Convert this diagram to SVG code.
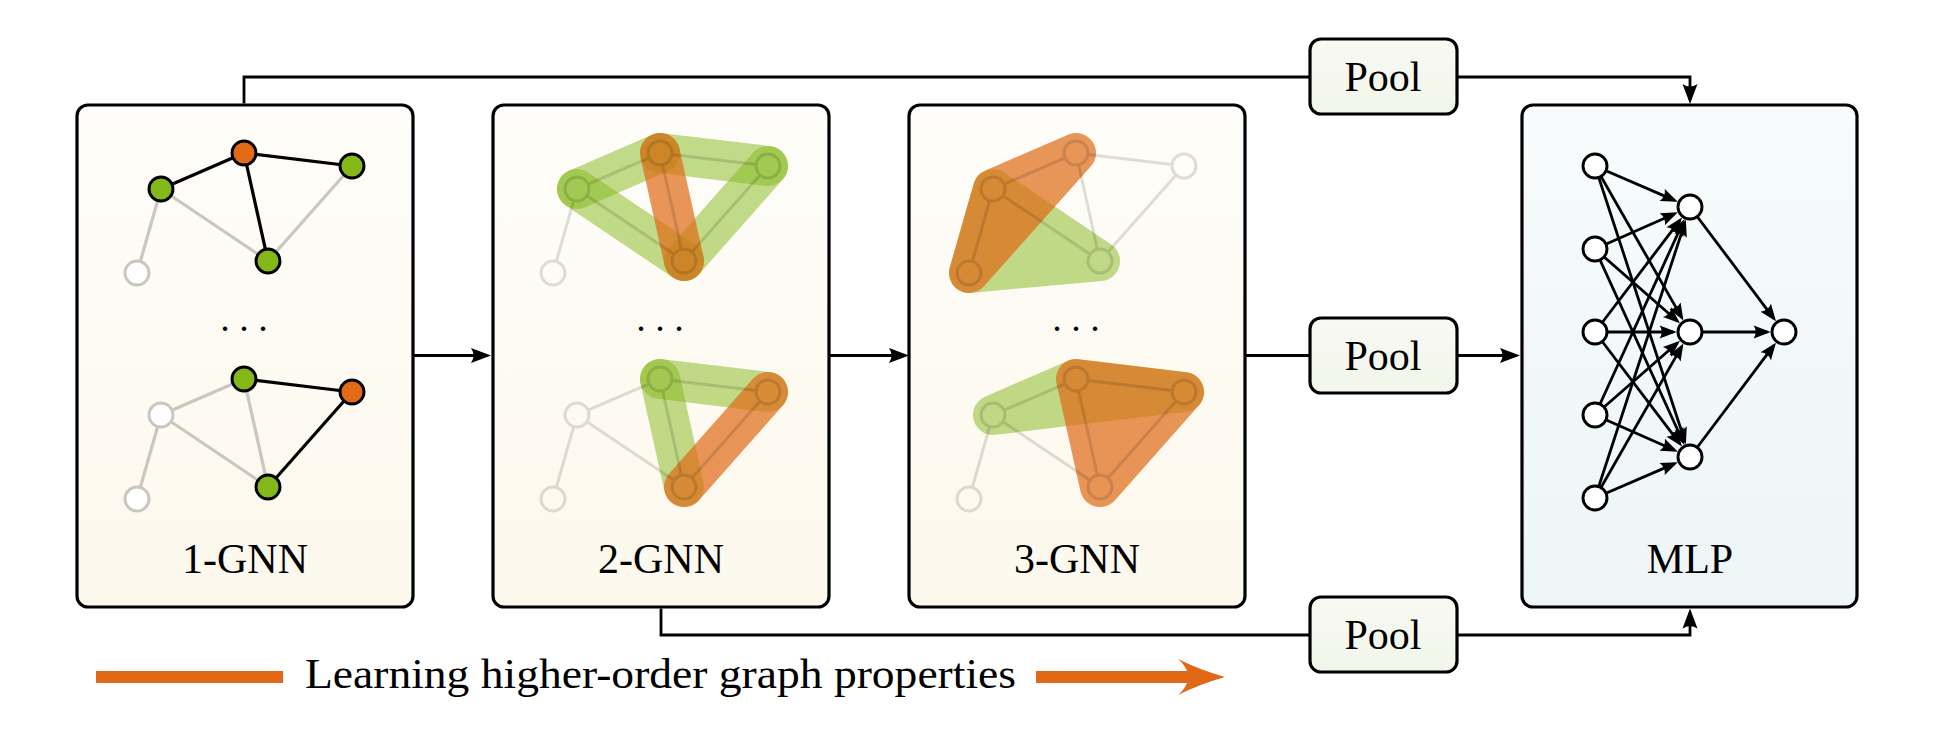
<svg xmlns="http://www.w3.org/2000/svg" xmlns:xlink="http://www.w3.org/1999/xlink" width="1938" height="743" viewBox="0 0 1938 743">
<style>
.box{stroke:#000;stroke-width:3.2}
.conn{fill:none;stroke:#000;stroke-width:2.8}
.lbl{font-family:"Liberation Serif","DejaVu Serif",serif;font-size:42px;text-anchor:middle;fill:#000}
.dots{font-family:"Liberation Serif","DejaVu Serif",serif;font-size:38px;text-anchor:middle;fill:#000}
.ge{stroke:#c9c7c0;stroke-width:3.2}
.be{stroke:#000;stroke-width:3.2}
.gn{fill:#84b819;stroke:#000;stroke-width:2.9}
.on{fill:#e06a15;stroke:#000;stroke-width:2.9}
.wn{fill:#fff;stroke:#c9c7c0;stroke-width:2.9}
.band-g{fill:none;stroke:#84b819;stroke-opacity:0.5;stroke-width:40;stroke-linecap:round}
.band-o{fill:none;stroke:#e06a15;stroke-opacity:0.7;stroke-width:40;stroke-linecap:round}
.poly-g{fill:#84b819;stroke:#84b819;stroke-width:40;stroke-linejoin:round}
.poly-o{fill:#e06a15;stroke:#e06a15;stroke-width:40;stroke-linejoin:round}
.mn{fill:#fff;stroke:#000;stroke-width:2.9}
.me{fill:none;stroke:#000;stroke-width:2.8}
</style>
<defs>
<linearGradient id="gCream" x1="0" y1="0" x2="0" y2="1"><stop offset="0" stop-color="#fefdf9"/><stop offset="1" stop-color="#fdf8ec"/></linearGradient>
<linearGradient id="gBlue" x1="0" y1="0" x2="0" y2="1"><stop offset="0" stop-color="#f7fbfc"/><stop offset="1" stop-color="#edf5f7"/></linearGradient>
<linearGradient id="gPool" x1="0" y1="0" x2="0" y2="1"><stop offset="0" stop-color="#f8faf3"/><stop offset="1" stop-color="#f2f5e9"/></linearGradient>
<marker id="arr" viewBox="0 -8 24 16" refX="18" refY="0" markerWidth="24" markerHeight="16" markerUnits="userSpaceOnUse" orient="auto">
<path d="M22,0 L2,-7.5 Q7,0 2,7.5 Z" fill="#000"/>
</marker>
<marker id="arrs" viewBox="0 -7 20 14" refX="15.5" refY="0" markerWidth="20" markerHeight="14" markerUnits="userSpaceOnUse" orient="auto">
<path d="M19,0 L2,-6.5 Q6,0 2,6.5 Z" fill="#000"/>
</marker>
<g id="faded" fill="none" stroke="#000" stroke-width="3">
<line x1="232.99" y1="157.77" x2="172.01" y2="184.23"/>
<line x1="255.91" y1="154.43" x2="340.09" y2="164.57"/>
<line x1="246.60" y1="164.71" x2="265.40" y2="249.29"/>
<line x1="157.70" y1="200.54" x2="140.30" y2="261.46"/>
<line x1="170.96" y1="195.70" x2="258.04" y2="254.30"/>
<line x1="275.95" y1="252.01" x2="344.05" y2="174.99"/>
<circle cx="244" cy="153" r="12"/>
<circle cx="161" cy="189" r="12"/>
<circle cx="352" cy="166" r="12"/>
<circle cx="268" cy="261" r="12"/>
<circle cx="137" cy="273" r="12"/>
</g>
</defs>

<g id="node-1gnn">
<rect class="box" x="77" y="105" width="336" height="502" rx="11" fill="url(#gCream)"/>
<g>
<line class="ge" x1="161" y1="189" x2="137" y2="273"/>
<line class="ge" x1="161" y1="189" x2="268" y2="261"/>
<line class="ge" x1="268" y1="261" x2="352" y2="166"/>
<line class="be" x1="244" y1="153" x2="161" y2="189"/>
<line class="be" x1="244" y1="153" x2="352" y2="166"/>
<line class="be" x1="244" y1="153" x2="268" y2="261"/>
<circle class="on" cx="244" cy="153" r="12"/>
<circle class="gn" cx="161" cy="189" r="12"/>
<circle class="gn" cx="352" cy="166" r="12"/>
<circle class="gn" cx="268" cy="261" r="12"/>
<circle class="wn" cx="137" cy="273" r="12"/>
</g>
<g transform="translate(0,226)">
<line class="ge" x1="244" y1="153" x2="161" y2="189"/>
<line class="ge" x1="244" y1="153" x2="268" y2="261"/>
<line class="ge" x1="161" y1="189" x2="137" y2="273"/>
<line class="ge" x1="161" y1="189" x2="268" y2="261"/>
<line class="be" x1="244" y1="153" x2="352" y2="166"/>
<line class="be" x1="268" y1="261" x2="352" y2="166"/>
<circle class="gn" cx="244" cy="153" r="12"/>
<circle class="wn" cx="161" cy="189" r="12"/>
<circle class="on" cx="352" cy="166" r="12"/>
<circle class="gn" cx="268" cy="261" r="12"/>
<circle class="wn" cx="137" cy="273" r="12"/>
</g>
<text class="dots" x="244" y="331">. . .</text>
<text class="lbl" x="245" y="573">1-GNN</text>
</g>

<g id="node-2gnn">
<rect class="box" x="493" y="105" width="336" height="502" rx="11" fill="url(#gCream)"/>
<g transform="translate(416,0)">
<line class="band-g" x1="161" y1="189" x2="244" y2="153"/>
<line class="band-g" x1="244" y1="153" x2="352" y2="166"/>
<line class="band-g" x1="352" y1="166" x2="268" y2="261"/>
<line class="band-g" x1="161" y1="189" x2="268" y2="261"/>
<line class="band-o" x1="244" y1="153" x2="268" y2="261"/>
<use href="#faded" opacity="0.12"/>
</g>
<g transform="translate(416,226)">
<line class="band-g" x1="244" y1="153" x2="352" y2="166"/>
<line class="band-g" x1="244" y1="153" x2="268" y2="261"/>
<line class="band-o" x1="352" y1="166" x2="268" y2="261"/>
<use href="#faded" opacity="0.12"/>
</g>
<text class="dots" x="660" y="331">. . .</text>
<text class="lbl" x="661" y="573">2-GNN</text>
</g>

<g id="node-3gnn">
<rect class="box" x="909" y="105" width="336" height="502" rx="11" fill="url(#gCream)"/>
<g transform="translate(832,0)">
<g opacity="0.5"><polygon class="poly-g" points="137,273 161,189 268,261"/></g>
<g opacity="0.7"><polygon class="poly-o" points="137,273 161,189 244,153"/></g>
<use href="#faded" opacity="0.12"/>
</g>
<g transform="translate(832,226)">
<g opacity="0.5"><polygon class="poly-g" points="161,189 244,153 352,166"/></g>
<g opacity="0.7"><polygon class="poly-o" points="244,153 352,166 268,261"/></g>
<use href="#faded" opacity="0.12"/>
</g>
<text class="dots" x="1076" y="331">. . .</text>
<text class="lbl" x="1077" y="573">3-GNN</text>
</g>

<g id="node-mlp">
<rect class="box" x="1522" y="105" width="335" height="502" rx="11" fill="url(#gBlue)"/>
<g marker-end="url(#arrs)">
<line class="me" x1="1595" y1="166" x2="1674.58" y2="200.34"/>
<line class="me" x1="1595" y1="249" x2="1674.63" y2="213.79"/>
<line class="me" x1="1595" y1="332" x2="1679.83" y2="220.38"/>
<line class="me" x1="1595" y1="415" x2="1683.02" y2="222.28"/>
<line class="me" x1="1595" y1="498" x2="1684.79" y2="222.97"/>
<line class="me" x1="1595" y1="166" x2="1681.66" y2="317.42"/>
<line class="me" x1="1595" y1="249" x2="1677.35" y2="320.95"/>
<line class="me" x1="1595" y1="332" x2="1673.2" y2="332"/>
<line class="me" x1="1595" y1="415" x2="1677.35" y2="343.05"/>
<line class="me" x1="1595" y1="498" x2="1681.66" y2="346.58"/>
<line class="me" x1="1595" y1="166" x2="1684.79" y2="441.03"/>
<line class="me" x1="1595" y1="249" x2="1683.02" y2="441.72"/>
<line class="me" x1="1595" y1="332" x2="1679.83" y2="443.62"/>
<line class="me" x1="1595" y1="415" x2="1674.63" y2="450.21"/>
<line class="me" x1="1595" y1="498" x2="1674.58" y2="463.66"/>
<line class="me" x1="1690" y1="207" x2="1773.90" y2="318.57"/>
<line class="me" x1="1690" y1="332" x2="1767.2" y2="332"/>
<line class="me" x1="1690" y1="457" x2="1773.90" y2="345.43"/>
</g>
<circle class="mn" cx="1595" cy="166" r="12"/>
<circle class="mn" cx="1595" cy="249" r="12"/>
<circle class="mn" cx="1595" cy="332" r="12"/>
<circle class="mn" cx="1595" cy="415" r="12"/>
<circle class="mn" cx="1595" cy="498" r="12"/>
<circle class="mn" cx="1690" cy="207" r="12"/>
<circle class="mn" cx="1690" cy="332" r="12"/>
<circle class="mn" cx="1690" cy="457" r="12"/>
<circle class="mn" cx="1784" cy="332" r="12"/>
<text class="lbl" x="1690" y="573">MLP</text>
</g>

<g id="node-pool-top">
<rect class="box" x="1310" y="39" width="147" height="75" rx="11" fill="url(#gPool)"/>
<text class="lbl" x="1383" y="91">Pool</text>
</g>
<g id="node-pool-mid">
<rect class="box" x="1310" y="318" width="147" height="75" rx="11" fill="url(#gPool)"/>
<text class="lbl" x="1383" y="370">Pool</text>
</g>
<g id="node-pool-bot">
<rect class="box" x="1310" y="597" width="147" height="75" rx="11" fill="url(#gPool)"/>
<text class="lbl" x="1383" y="649">Pool</text>
</g>

<g id="connectors">
<path class="conn" d="M244,103.5 V77 H1310"/>
<path class="conn" d="M1457,77 H1690 V100" marker-end="url(#arr)"/>
<path class="conn" d="M413,355.5 H487" marker-end="url(#arr)"/>
<path class="conn" d="M829,355.5 H905" marker-end="url(#arr)"/>
<path class="conn" d="M1245,355.5 H1310"/>
<path class="conn" d="M1457,355.5 H1516" marker-end="url(#arr)"/>
<path class="conn" d="M661,608.5 V635 H1310"/>
<path class="conn" d="M1457,635 H1690 V612.5" marker-end="url(#arr)"/>
</g>

<g id="legend">
<rect x="96" y="671" width="187" height="12" fill="#e06816"/>
<text x="305" y="688" font-family="'Liberation Serif','DejaVu Serif',serif" font-size="42" textLength="711" lengthAdjust="spacingAndGlyphs">Learning higher-order graph properties</text>
<path d="M1036,671 H1187 Q1184,664 1178,659 Q1200,670 1225,677 Q1200,684 1178,695 Q1184,690 1187,683 H1036 Z" fill="#e06816"/>
</g>
</svg>
